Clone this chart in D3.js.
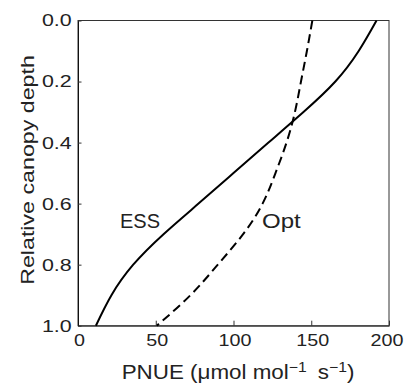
<!DOCTYPE html>
<html>
<head>
<meta charset="utf-8">
<script src="https://cdn.jsdelivr.net/npm/d3@7"></script>
<style>
  body { margin: 0; background: #fff; }
  svg text { font-family: "Liberation Sans", Arial, sans-serif; fill: #222; }
</style>
</head>
<body>
<div id="chart"></div>
<script>
// relative canopy depth (0 = top of canopy)
const depth = [0, 0.1, 0.2, 0.3, 0.4, 0.5, 0.6, 0.7, 0.8, 0.9, 1.0];
// PNUE
const essPnue = [192, 180.5, 165.5, 145, 122.5, 100, 77.5, 55, 35.5, 21.5, 11.5];
const optPnue = [150.7, 147.2, 143.4, 139.5, 134.1, 127, 118.7, 106.2, 89.9, 72.3, 50.7];
const xTicks = [0, 50, 100, 150, 200];
const yTicks = [0, 0.2, 0.4, 0.6, 0.8, 1.0];

const width = 404, height = 384;
const margin = { top: 20.5, right: 15, bottom: 58.3, left: 78 };

const svg = d3.select("#chart").append("svg")
  .attr("width", width)
  .attr("height", height);

const x = d3.scaleLinear()
  .domain([0, 200])
  .range([margin.left, width - margin.right]);

const y = d3.scaleLinear()
  .domain([0, 1])
  .range([margin.top, height - margin.bottom]);

// frame
svg.append("rect")
  .attr("x", x(0))
  .attr("y", y(0))
  .attr("width", x(200) - x(0))
  .attr("height", y(1) - y(0))
  .attr("fill", "none")
  .attr("stroke", "#333")
  .attr("stroke-width", 1);

// the original lettering is a wide grotesque, so Liberation Sans gets stretched sideways
const xAxis = d3.axisBottom(x)
  .tickValues(xTicks)
  .tickSizeInner(-5)
  .tickSizeOuter(0)
  .tickPadding(8)
  .tickFormat(d3.format("d"));

svg.append("g")
  .attr("class", "axis xAxis")
  .attr("transform", `translate(0, ${y(1)})`)
  .call(xAxis)
  .call(g => g.select(".domain").attr("stroke", "#333"))
  .call(g => g.selectAll(".tick line").attr("stroke", "#333"))
  .call(g => g.selectAll(".tick text")
    .attr("font-size", 17)
    .attr("font-family", null)
    .attr("fill", "#222")
    // last label sits against the page edge, nudge it in like the original
    .attr("transform", d => `translate(${d === 200 ? -2.5 : 1},0) scale(1.16,1)`));

const yAxis = d3.axisLeft(y)
  .tickValues(yTicks)
  .tickSizeInner(-3.5)
  .tickSizeOuter(0)
  .tickPadding(6.3)
  .tickFormat(d3.format(".1f"));

svg.append("g")
  .attr("class", "axis yAxis")
  .attr("transform", `translate(${x(0)}, 0)`)
  .call(yAxis)
  .call(g => g.select(".domain").attr("stroke", "#111"))
  .call(g => g.selectAll(".tick line").attr("stroke", "#333"))
  .call(g => g.selectAll(".tick text")
    .attr("font-size", 17)
    .attr("font-family", null)
    .attr("fill", "#222")
    .attr("x", 0)
    .attr("transform", `translate(-6.3,0) scale(1.26,1)`));

const line = d3.line()
  .x(d => x(d[0]))
  .y(d => y(d[1]))
  .curve(d3.curveNatural);

svg.append("path")
  .datum(depth.map((d, i) => [essPnue[i], d]))
  .attr("fill", "none")
  .attr("stroke", "#000")
  .attr("stroke-width", 2)
  .attr("d", line);

svg.append("path")
  .datum(depth.map((d, i) => [optPnue[i], d]))
  .attr("fill", "none")
  .attr("stroke", "#000")
  .attr("stroke-width", 2)
  .attr("stroke-dasharray", "9,5")
  .attr("d", line);

// series labels
svg.append("text")
  .attr("transform", "translate(120,228)")
  .attr("font-size", 20)
  .text("ESS");

svg.append("text")
  .attr("transform", "translate(262,228) scale(1.2,1)")
  .attr("font-size", 20)
  .text("Opt");

// axis titles
const xTitle = svg.append("text")
  .attr("transform", "translate(238,379) scale(1.12,1)")
  .attr("text-anchor", "middle")
  .attr("font-size", 20);
xTitle.append("tspan").text("PNUE (\u03bcmol mol");
xTitle.append("tspan").attr("dy", -7).attr("font-size", 14).text("\u22121");
xTitle.append("tspan").attr("dy", 7).text("\u2002s");
xTitle.append("tspan").attr("dy", -7).attr("font-size", 14).text("\u22121");
xTitle.append("tspan").attr("dy", 7).text(")");

svg.append("text")
  .attr("transform", "translate(33.5,170) rotate(-90) scale(1.29,1)")
  .attr("text-anchor", "middle")
  .attr("font-size", 18)
  .text("Relative canopy depth");
</script>
</body>
</html>
